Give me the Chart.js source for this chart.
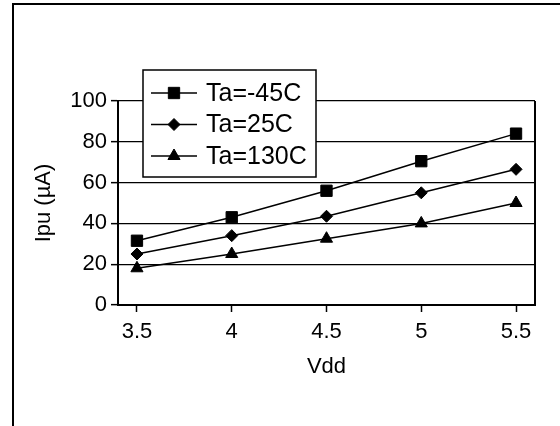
<!DOCTYPE html>
<html><head><meta charset="utf-8">
<script src="https://cdn.jsdelivr.net/npm/chart.js@4/dist/chart.umd.min.js"></script>
<style>
html,body{margin:0;padding:0;background:#fff;overflow:hidden;width:560px;height:426px}
#frame{position:absolute;left:12px;top:3px;width:620px;height:520px;border-left:2px solid #000;border-top:2px solid #000;}
#c{position:absolute;left:0;top:0}
</style></head><body>
<div id="frame"></div>
<canvas id="c" width="560" height="426"></canvas>
<script>
// ---- data ----
const vdd = [3.5, 4, 4.5, 5, 5.5];
const seriesLabels = ['Ta=-45C', 'Ta=25C', 'Ta=130C'];
const ipuM45 = [31.5, 43, 56, 70.5, 84];
const ipu25 = [25, 34, 43.5, 55, 66.5];
const ipu130 = [18, 25, 32.5, 40, 50];
const xTicks = [3.5, 4, 4.5, 5, 5.5];
const yTicks = [0, 20, 40, 60, 80, 100];
const xTitle = 'Vdd';
const yTitle = 'Ipu (\u00B5A)';

const FONT = "'Liberation Sans', Arial, Helvetica, sans-serif";
Chart.defaults.font.family = FONT;

function pts(arr){ return vdd.map((x,i)=>({x:x, y:arr[i]})); }
function ds(label, arr, style, r){
  return {label, data: pts(arr), borderColor:'#000', borderWidth:1.5, backgroundColor:'#000',
    pointStyle: style, pointRadius: r, pointBackgroundColor:'#000', pointBorderColor:'#000',
    pointBorderWidth:1, tension:0, fill:false};
}

const boxLegend = {
  id:'boxLegend',
  afterDraw(chart){
    const ctx = chart.ctx;
    ctx.save();
    ctx.fillStyle = '#fff';
    ctx.fillRect(143, 70, 173, 107);
    ctx.strokeStyle = '#000';
    ctx.lineWidth = 1.5;
    ctx.strokeRect(143, 70, 173, 107);
    chart.data.datasets.forEach((d, i) => {
      const y = 93 + i * 31.5;
      ctx.beginPath();
      ctx.strokeStyle = '#000';
      ctx.lineWidth = 1.5;
      ctx.moveTo(151, y); ctx.lineTo(197, y); ctx.stroke();
      ctx.fillStyle = '#000';
      ctx.lineWidth = 1;
      Chart.helpers.drawPoint(ctx, {pointStyle: d.pointStyle, radius: d.pointRadius, borderWidth: 1, rotation: 0}, 174, y);
      ctx.fillStyle = '#000';
      ctx.font = "25px " + FONT;
      ctx.textBaseline = 'middle';
      ctx.textAlign = 'left';
      ctx.fillText(d.label, 206, y + 1);
    });
    ctx.restore();
  }
};

const rightEdge = {
  id:'rightEdge',
  afterDraw(chart){
    const a = chart.chartArea, ctx = chart.ctx;
    ctx.save();
    ctx.strokeStyle = '#000'; ctx.lineWidth = 2;
    ctx.beginPath(); ctx.moveTo(a.right, a.top); ctx.lineTo(a.right, a.bottom + 1); ctx.stroke();
    ctx.restore();
  }
};

new Chart(document.getElementById('c'), {
  type:'line',
  data:{ datasets:[
    ds(seriesLabels[0], ipuM45, 'rect', 8),
    ds(seriesLabels[1], ipu25, 'rectRot', 6),
    ds(seriesLabels[2], ipu130, 'triangle', 7)
  ]},
  options:{
    responsive:false, animation:false, devicePixelRatio:1,
    layout:{padding:{left:0, top:101, right:25, bottom:0}},
    plugins:{legend:{display:false}, tooltip:{enabled:false}},
    scales:{
      x:{
        type:'linear', min:3.4, max:5.6,
        afterBuildTicks: s => { s.ticks = xTicks.map(v => ({value:v})); },
        afterFit: s => { s.height = 121; },
        grid:{drawOnChartArea:false, drawTicks:true, tickLength:7, tickColor:'#000', tickWidth:1.5},
        border:{display:true, color:'#000', width:2},
        ticks:{color:'#000', font:{size:22}, padding:7, maxRotation:0, autoSkip:false, callback: v => String(v)},
        title:{display:true, text:xTitle, color:'#000', font:{size:22}, padding:{top:0, bottom:46}}
      },
      y:{
        min:0, max:100,
        afterBuildTicks: s => { s.ticks = yTicks.map(v => ({value:v})); },
        afterFit: s => { s.width = 118; },
        grid:{color:'#000', lineWidth:1.3, drawTicks:true, tickLength:7, tickColor:'#000', tickWidth:1.5},
        border:{display:true, color:'#000', width:2},
        ticks:{color:'#000', font:{size:22}, padding:4, callback: v => String(v)},
        title:{display:true, text:yTitle, color:'#000', font:{size:22}, padding:{top:31, bottom:0}}
      }
    }
  },
  plugins:[boxLegend, rightEdge]
});
</script>
</body></html>
